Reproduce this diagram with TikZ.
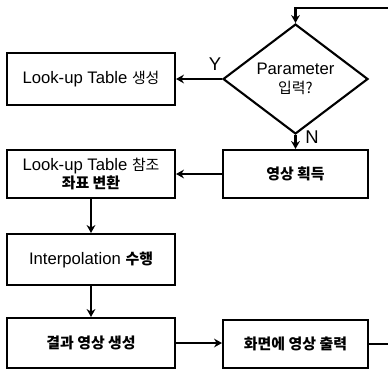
\documentclass[tikz,border=0pt]{standalone}
\usepackage{fontspec}
\setmainfont{Liberation Sans}
\newfontfamily\krfont{Noto Sans CJK KR}
\usetikzlibrary{shapes.geometric,arrows.meta}
\newcommand{\ko}[1]{{\krfont\fontsize{8.5}{10}\selectfont #1}}
\newcommand{\kob}[1]{{\krfont\bfseries\fontsize{8.5}{10}\selectfont #1}}
\tikzset{
  stepbox/.style={draw,line width=1.2pt,minimum width=3.36cm,minimum height=1cm,inner sep=1pt,align=center},
  sidebox/.style={stepbox,minimum width=2.9cm,minimum height=0.96cm},
  decision/.style={draw,diamond,line width=1.2pt,minimum width=2.9cm,minimum height=1.88cm,inner sep=0pt,align=center},
  flow/.style={line width=1.2pt,-{Stealth[length=4.5pt,width=5pt]}},
  branch/.style={font=\fontsize{10.5}{12}\selectfont}
}
\begin{document}
\begin{tikzpicture}[x=0.02cm,y=-0.02cm,font=\fontsize{9.5}{11}\selectfont]
\useasboundingbox (0,0) rectangle (388,370);
% left column of steps
\node[stepbox,minimum height=1.04cm] (lut) at (91,79) {Look-up Table \ko{생성}};
\node[stepbox,minimum height=0.96cm] (lutref) at (91,174) {Look-up Table \ko{참조}\\[-1pt]\kob{좌표 변환}};
\node[stepbox,minimum height=1.02cm] (interp) at (91,259.5) {Interpolation \kob{수행}};
\node[stepbox] (result) at (91,343) {\kob{결과 영상 생성}};
% right column: test, capture, display
\node[decision] (param) at (295.5,79) {Parameter\\\ko{입력?}};
\node[sidebox] (capture) at (295.5,174) {\kob{영상 획득}};
\node[sidebox] (display) at (295.5,344) {\kob{화면에 영상 출력}};
% branches of the test
\draw[flow] (param.west) -- (lut.east);
\node[branch] at (215,64) {Y};
\draw[flow] (param.south) -- (capture.north);
\node[branch] at (312,137) {N};
% main flow
\draw[flow] (capture.west) -- (capture.west -| lutref.east);
\draw[flow] (lutref.south) -- (interp.north);
\draw[flow] (interp.south) -- (result.north);
\draw[flow] (result.east) -- (result.east -| display.west);
% loop back to the test, running past the right edge
\coordinate (looptop) at (295.5,8);
\draw[flow] (display.east) -- ++(22,0) |- (looptop) -- (param.north);
\end{tikzpicture}
\end{document}
